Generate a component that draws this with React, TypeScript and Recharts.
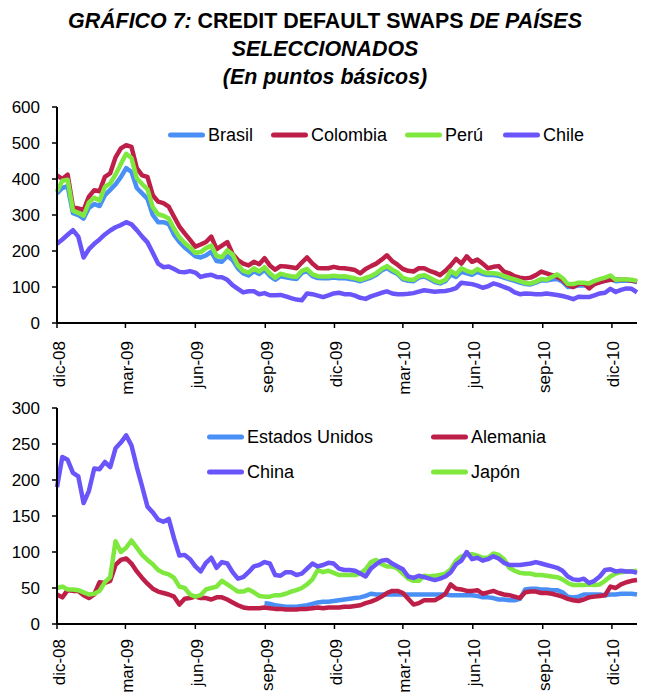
import React from 'react';
import { LineChart, Line, XAxis, YAxis } from 'recharts';

// one value per week, starting 1 Dec 2008
const DAY_TICKS = [0, 90, 182, 274, 365, 455, 547, 639, 730];
const TICK_LABELS = ['dic-08', 'mar-09', 'jun-09', 'sep-09', 'dic-09', 'mar-10', 'jun-10', 'sep-10', 'dic-10'];
const TOP_TICKS = [0, 100, 200, 300, 400, 500, 600];
const BOTTOM_TICKS = [0, 50, 100, 150, 200, 250, 300];

const BRASIL = [
  360, 375, 380, 305, 300, 290, 320, 330, 325, 355, 370, 385, 405, 430, 420, 375, 360, 345, 300, 280,
  280, 275, 245, 225, 210, 198, 185, 182, 188, 198, 172, 170, 186, 175, 152,
  138, 132, 144, 136, 148, 131, 120, 130, 127, 124, 122, 139, 144, 130, 125, 124, 124, 126, 124, 125,
  122, 120, 116, 121, 126, 134, 146, 153, 143, 136, 121, 117, 116, 126, 129, 122, 114, 110, 116, 135,
  128, 142, 138, 134, 142, 136, 133, 133, 131, 126, 121, 117, 112, 108, 107, 112, 119, 118, 121, 122,
  115, 100, 101, 104, 105, 104, 109, 114, 118, 122, 116, 117, 118, 117, 114,
];
const COLOMBIA = [
  410, 400, 412, 322, 318, 314, 351, 369, 366, 406, 416, 460, 485, 494, 489, 430, 410, 406, 355, 337,
  333, 323, 295, 268, 249, 231, 212, 218, 225, 240, 205, 215, 225, 192, 175,
  165, 160, 170, 163, 180, 160, 148, 158, 157, 155, 152, 168, 182, 165, 153, 152, 152, 156, 153, 152,
  150, 147, 138, 150, 158, 165, 176, 188, 172, 162, 150, 145, 143, 152, 152, 145, 140, 133, 145,
  160, 178, 165, 185, 170, 176, 165, 152, 156, 158, 143, 138, 130, 126, 124, 126, 133, 143, 138, 133,
  128, 120, 105, 100, 108, 110, 96, 108, 113, 117, 120, 121, 120, 120, 118, 115,
];
const PERU = [
  365, 395, 398, 312, 306, 298, 335, 348, 340, 378, 388, 412, 442, 470, 458, 402, 386, 372, 322, 302,
  298, 290, 262, 238, 222, 210, 195, 197, 208, 215, 186, 183, 202, 190, 160,
  145, 140, 152, 143, 155, 138, 126, 137, 133, 130, 128, 145, 150, 135, 130, 129, 129, 131, 129, 130,
  127, 124, 120, 125, 130, 138, 150, 158, 148, 140, 125, 121, 120, 130, 133, 126, 118, 113, 120,
  145, 135, 152, 145, 140, 150, 142, 138, 138, 136, 130, 125, 121, 116, 111, 110, 115, 122, 120, 128,
  135, 125, 108, 108, 112, 112, 110, 117, 122, 126, 132, 120, 121, 121, 120, 117,
];
const CHILE = [
  220, 232, 245, 258, 240, 182, 205, 220, 232, 246, 257, 266, 272, 280, 274, 258, 240, 224, 195, 165,
  155, 157, 150, 142, 141, 144, 140, 128, 132, 134, 128, 127, 120, 105, 95,
  85, 88, 88, 80, 83, 77, 77, 78, 74, 69, 65, 63, 82, 80, 76, 72, 77, 82, 84, 80,
  80, 76, 70, 67, 74, 79, 84, 88, 82, 80, 80, 81, 83, 87, 91, 89, 87, 88, 89,
  92, 97, 112, 110, 108, 104, 98, 102, 110, 106, 100, 95, 85, 80, 82, 81, 80, 80, 82, 80,
  78, 75, 71, 66, 73, 72, 72, 77, 82, 84, 95, 86, 92, 96, 95, 85,
];

// no quotes for the US before September 2009
const EEUU: (number | null)[] = [
  ...Array(39).fill(null),
  29, 28, 26, 25, 24, 24, 24, 25, 26, 28, 30, 31, 31, 32, 33, 34, 35, 36, 37, 39,
  42, 41, 41, 41, 41, 41, 41, 41, 41, 41, 41, 41, 41, 41, 41,
  40, 40, 40, 40, 40, 39, 37, 37, 36, 34, 34, 33, 33, 35, 48, 49, 49, 48, 48, 47,
  47, 44, 38, 37, 38, 41, 41, 41, 41, 40, 41, 41, 42, 42, 42, 41,
];
const ALEMANIA = [
  41, 37, 47, 46, 46, 40, 36, 41, 58, 57, 60, 82, 89, 91, 84, 73, 64, 56, 49, 45,
  43, 41, 38, 27, 35, 36, 38, 36, 36, 34, 37, 37, 34, 30, 26,
  23, 22, 22, 22, 23, 22, 21, 21, 20, 20, 20, 21, 21, 22, 23, 22, 23, 23, 23, 24,
  24, 25, 26, 29, 31, 34, 38, 43, 46, 46, 43, 35, 27, 29, 33, 33, 33, 37, 42,
  55, 49, 48, 46, 46, 47, 42, 44, 46, 43, 41, 40, 38, 36, 44, 45, 45, 43, 43, 42,
  40, 38, 35, 33, 32, 34, 37, 38, 39, 40, 52, 50, 55, 58, 60, 61,
];
const CHINA = [
  190, 232, 228, 210, 205, 168, 185, 216, 215, 225, 218, 244, 252, 262, 248, 218, 191, 163, 155, 145,
  142, 146, 119, 95, 96, 90, 80, 73, 85, 92, 78, 86, 84, 72, 63,
  65, 72, 80, 82, 86, 84, 68, 67, 72, 72, 68, 70, 77, 84, 80, 82, 85, 84, 77, 75,
  75, 74, 70, 66, 77, 83, 88, 89, 84, 80, 76, 66, 64, 67, 65, 63, 61, 63, 66,
  72, 83, 88, 100, 90, 92, 88, 90, 94, 91, 85, 82, 82, 82, 83, 84, 86, 84, 82, 80,
  78, 74, 66, 62, 61, 63, 57, 60, 66, 75, 76, 73, 74, 73, 73, 71,
];
const JAPON = [
  50, 52, 48, 48, 47, 44, 41, 42, 46, 58, 65, 115, 100, 106, 116, 106, 96, 89, 83, 75,
  71, 69, 64, 52, 50, 41, 38, 40, 48, 50, 52, 60, 55, 50, 45,
  45, 48, 44, 39, 38, 38, 40, 40, 42, 45, 47, 50, 55, 62, 75, 72, 74, 71, 68, 68,
  68, 68, 70, 76, 86, 89, 83, 80, 80, 77, 70, 63, 60, 60, 67, 66, 67, 68, 70,
  76, 88, 94, 96, 97, 95, 92, 92, 98, 96, 90, 78, 74, 71, 70, 70, 68, 68, 67, 66,
  65, 62, 57, 54, 54, 54, 55, 54, 55, 60, 66, 70, 72, 73, 73, 74,
];

const BLUE = '#4A8FF5';
const RED = '#BE1F48';
const GREEN = '#7EE83E';
const PURPLE = '#6A55FA';
const FONT = '"Liberation Sans", Arial, sans-serif';

const topData = BRASIL.map((v, i) => ({
  day: i * 7, brasil: v, colombia: COLOMBIA[i], peru: PERU[i], chile: CHILE[i],
}));
const bottomData = BRASIL.map((_, i) => ({
  day: i * 7, eeuu: EEUU[i], alemania: ALEMANIA[i], china: CHINA[i], japon: JAPON[i],
}));

const DateTick = ({ x, y, payload }: any) => {
  const label = TICK_LABELS[DAY_TICKS.indexOf(payload.value)];
  const cx = x + 2;
  return (
    <text x={cx} y={y} transform={`rotate(-90, ${cx}, ${y})`} textAnchor="end"
      dominantBaseline="central" fontSize={17} fontFamily={FONT} fill="#000">
      {label}
    </text>
  );
};

const LegendItem = ({ x, y, color, name }: any) => (
  <div style={{ position: 'absolute', left: x, top: y - 12, height: 24, display: 'flex', alignItems: 'center', whiteSpace: 'nowrap' }}>
    <svg width={37} height={8}>
      <line x1={2.5} y1={4} x2={34.5} y2={4} stroke={color} strokeWidth={5} strokeLinecap="round" />
    </svg>
    <span style={{ marginLeft: 3, fontSize: 18, fontFamily: FONT, color: '#000' }}>{name}</span>
  </div>
);

const axisProps = {
  stroke: '#000',
  tick: { fill: '#000', fontSize: 17, fontFamily: FONT },
  tickLine: { stroke: '#000', strokeWidth: 1.5 },
  axisLine: { stroke: '#000', strokeWidth: 2 },
  tickSize: 5,
};

const seriesProps = {
  type: 'linear' as const,
  dot: false,
  strokeWidth: 4.5,
  strokeLinejoin: 'round' as const,
  isAnimationActive: false,
};

const Panel = ({ data, ticks, max, height, top, labelGap, children }: any) => (
  <div style={{ position: 'absolute', left: 0, top }}>
    <LineChart width={647} height={height} data={data} margin={{ top: 8, right: 10, left: 0, bottom: 0 }}>
      <XAxis dataKey="day" type="number" domain={[0, 763]} ticks={DAY_TICKS} interval={0}
        height={height - 224} tickMargin={labelGap} tick={<DateTick />}
        stroke="#000" tickLine={axisProps.tickLine} axisLine={axisProps.axisLine} tickSize={5} />
      <YAxis type="number" domain={[0, max]} ticks={ticks} interval={0} width={57} tickMargin={12} {...axisProps} />
      {children}
    </LineChart>
  </div>
);

export default function App() {
  return (
    <div style={{ position: 'absolute', left: 0, top: 0, width: 647, height: 694, background: '#fff', overflow: 'hidden' }}>
      <svg width={647} height={95} style={{ position: 'absolute', left: 0, top: 0 }}>
        <text x={325} y={28} textAnchor="middle" fontSize={21.4} fontWeight="bold" fontFamily={FONT}>
          <tspan fontStyle="italic">GRÁFICO 7:</tspan>
          <tspan> CREDIT DEFAULT SWAPS </tspan>
          <tspan fontStyle="italic">DE PAÍSES</tspan>
        </text>
        <text x={325} y={56} textAnchor="middle" fontSize={21.4} fontWeight="bold" fontStyle="italic" fontFamily={FONT}>
          SELECCIONADOS
        </text>
        <text x={325} y={84} textAnchor="middle" fontSize={21.4} fontWeight="bold" fontStyle="italic" fontFamily={FONT}>
          (En puntos básicos)
        </text>
      </svg>

      <Panel data={topData} ticks={TOP_TICKS} max={600} height={299} top={99} labelGap={13}>
        <Line dataKey="brasil" stroke={BLUE} {...seriesProps} />
        <Line dataKey="colombia" stroke={RED} {...seriesProps} />
        <Line dataKey="peru" stroke={GREEN} {...seriesProps} />
        <Line dataKey="chile" stroke={PURPLE} {...seriesProps} />
      </Panel>

      <Panel data={bottomData} ticks={BOTTOM_TICKS} max={300} height={294} top={400} labelGap={10}>
        <Line dataKey="eeuu" stroke={BLUE} {...seriesProps} />
        <Line dataKey="alemania" stroke={RED} {...seriesProps} />
        <Line dataKey="japon" stroke={GREEN} {...seriesProps} />
        <Line dataKey="china" stroke={PURPLE} {...seriesProps} />
      </Panel>

      <LegendItem x={168} y={135} color={BLUE} name="Brasil" />
      <LegendItem x={271} y={135} color={RED} name="Colombia" />
      <LegendItem x={405} y={135} color={GREEN} name="Perú" />
      <LegendItem x={503} y={135} color={PURPLE} name="Chile" />

      <LegendItem x={207} y={437} color={BLUE} name="Estados Unidos" />
      <LegendItem x={431} y={437} color={RED} name="Alemania" />
      <LegendItem x={207} y={472} color={PURPLE} name="China" />
      <LegendItem x={431} y={472} color={GREEN} name="Japón" />
    </div>
  );
}
